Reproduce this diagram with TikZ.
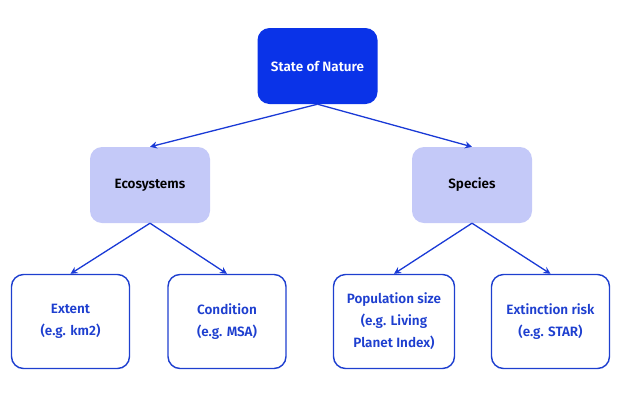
\documentclass[tikz,border=0pt]{standalone}
\usepackage{fontspec}
\setmainfont{Fira Sans}[BoldFont={Fira Sans SemiBold}]
\usetikzlibrary{arrows.meta}
\definecolor{topblue}{HTML}{0A33E8}
\definecolor{midfill}{HTML}{C4C9F8}
\definecolor{leafblue}{HTML}{1E3FCF}
\definecolor{arrowblue}{HTML}{1A3AD6}
\tikzset{
  box/.style={rounded corners=12pt, minimum width=120pt, minimum height=76pt, align=center, inner sep=2pt, font=\fontsize{13.5}{22}\selectfont\bfseries},
  topbox/.style={box, fill=topblue, text=white},
  midbox/.style={box, fill=midfill, text=black},
  leafbox/.style={box, draw=leafblue, line width=1.4pt, text=leafblue, minimum height=94pt, minimum width=118pt},
  conn/.style={draw=arrowblue, line width=1.3pt, -{Stealth[length=7pt,width=7pt]}}
}
\begin{document}
\begin{tikzpicture}[x=1pt,y=-1pt]
\useasboundingbox (0,0) rectangle (624,400);
\node[topbox] (son) at (317.5,66) {State of Nature};
\node[midbox] (eco) at (150,185) {Ecosystems};
\node[midbox] (spe) at (472,185) {Species};
\node[leafbox] (ext) at (70.5,321.5) {Extent\\(e.g. km2)};
\node[leafbox] (con) at (227,321.5) {Condition\\(e.g. MSA)};
\node[leafbox, minimum width=121pt] (pop) at (394,321.5) {Population size\\(e.g. Living\\Planet Index)};
\node[leafbox] (exr) at (550.5,321.5) {Extinction risk\\(e.g. STAR)};
\draw[conn] (son.south) -- (eco.north);
\draw[conn] (son.south) -- (spe.north);
\draw[conn] (eco.south) -- (ext.north);
\draw[conn] (eco.south) -- (con.north);
\draw[conn] (spe.south) -- (pop.north);
\draw[conn] (spe.south) -- (exr.north);
\end{tikzpicture}
\end{document}
